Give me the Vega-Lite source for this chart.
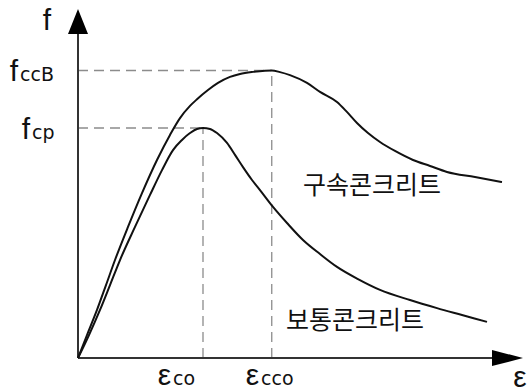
{
  "$schema": "https://vega.github.io/schema/vega-lite/v6.json",
  "width": 531,
  "height": 392,
  "autosize": {"type": "none"},
  "padding": 0,
  "background": "white",
  "config": {"view": {"stroke": null}},
  "datasets": {
    "curves": [
      {"concrete": "구속콘크리트", "eps": 0, "f": 0},
      {"concrete": "구속콘크리트", "eps": 0.144, "f": 0.1},
      {"concrete": "구속콘크리트", "eps": 0.304, "f": 0.209},
      {"concrete": "구속콘크리트", "eps": 0.448, "f": 0.317},
      {"concrete": "구속콘크리트", "eps": 0.592, "f": 0.426},
      {"concrete": "구속콘크리트", "eps": 0.8, "f": 0.57},
      {"concrete": "구속콘크리트", "eps": 1.024, "f": 0.717},
      {"concrete": "구속콘크리트", "eps": 1.264, "f": 0.861},
      {"concrete": "구속콘크리트", "eps": 1.472, "f": 0.97},
      {"concrete": "구속콘크리트", "eps": 1.632, "f": 1.043},
      {"concrete": "구속콘크리트", "eps": 1.792, "f": 1.096},
      {"concrete": "구속콘크리트", "eps": 1.904, "f": 1.125},
      {"concrete": "구속콘크리트", "eps": 2.08, "f": 1.165},
      {"concrete": "구속콘크리트", "eps": 2.24, "f": 1.196},
      {"concrete": "구속콘크리트", "eps": 2.432, "f": 1.222},
      {"concrete": "구속콘크리트", "eps": 2.592, "f": 1.235},
      {"concrete": "구속콘크리트", "eps": 2.8, "f": 1.244},
      {"concrete": "구속콘크리트", "eps": 2.992, "f": 1.249},
      {"concrete": "구속콘크리트", "eps": 3.1, "f": 1.25},
      {"concrete": "구속콘크리트", "eps": 3.232, "f": 1.243},
      {"concrete": "구속콘크리트", "eps": 3.392, "f": 1.23},
      {"concrete": "구속콘크리트", "eps": 3.664, "f": 1.196},
      {"concrete": "구속콘크리트", "eps": 3.872, "f": 1.157},
      {"concrete": "구속콘크리트", "eps": 4.144, "f": 1.113},
      {"concrete": "구속콘크리트", "eps": 4.299, "f": 1.071},
      {"concrete": "구속콘크리트", "eps": 4.464, "f": 1.022},
      {"concrete": "구속콘크리트", "eps": 4.64, "f": 0.978},
      {"concrete": "구속콘크리트", "eps": 4.832, "f": 0.939},
      {"concrete": "구속콘크리트", "eps": 5.072, "f": 0.9},
      {"concrete": "구속콘크리트", "eps": 5.36, "f": 0.861},
      {"concrete": "구속콘크리트", "eps": 5.632, "f": 0.835},
      {"concrete": "구속콘크리트", "eps": 5.904, "f": 0.809},
      {"concrete": "구속콘크리트", "eps": 6.352, "f": 0.787},
      {"concrete": "구속콘크리트", "eps": 6.784, "f": 0.765},
      {"concrete": "보통콘크리트", "eps": 0, "f": 0},
      {"concrete": "보통콘크리트", "eps": 0.176, "f": 0.1},
      {"concrete": "보통콘크리트", "eps": 0.352, "f": 0.209},
      {"concrete": "보통콘크리트", "eps": 0.512, "f": 0.317},
      {"concrete": "보통콘크리트", "eps": 0.672, "f": 0.426},
      {"concrete": "보통콘크리트", "eps": 0.912, "f": 0.57},
      {"concrete": "보통콘크리트", "eps": 1.152, "f": 0.709},
      {"concrete": "보통콘크리트", "eps": 1.344, "f": 0.817},
      {"concrete": "보통콘크리트", "eps": 1.52, "f": 0.904},
      {"concrete": "보통콘크리트", "eps": 1.664, "f": 0.948},
      {"concrete": "보통콘크리트", "eps": 1.792, "f": 0.978},
      {"concrete": "보통콘크리트", "eps": 1.904, "f": 0.996},
      {"concrete": "보통콘크리트", "eps": 2.0, "f": 1.0},
      {"concrete": "보통콘크리트", "eps": 2.112, "f": 0.996},
      {"concrete": "보통콘크리트", "eps": 2.224, "f": 0.978},
      {"concrete": "보통콘크리트", "eps": 2.384, "f": 0.935},
      {"concrete": "보통콘크리트", "eps": 2.512, "f": 0.883},
      {"concrete": "보통콘크리트", "eps": 2.64, "f": 0.83},
      {"concrete": "보통콘크리트", "eps": 2.784, "f": 0.774},
      {"concrete": "보통콘크리트", "eps": 2.912, "f": 0.73},
      {"concrete": "보통콘크리트", "eps": 3.12, "f": 0.657},
      {"concrete": "보통콘크리트", "eps": 3.344, "f": 0.587},
      {"concrete": "보통콘크리트", "eps": 3.6, "f": 0.513},
      {"concrete": "보통콘크리트", "eps": 3.872, "f": 0.452},
      {"concrete": "보통콘크리트", "eps": 4.144, "f": 0.396},
      {"concrete": "보통콘크리트", "eps": 4.48, "f": 0.343},
      {"concrete": "보통콘크리트", "eps": 4.832, "f": 0.296},
      {"concrete": "보통콘크리트", "eps": 5.312, "f": 0.252},
      {"concrete": "보통콘크리트", "eps": 5.744, "f": 0.217},
      {"concrete": "보통콘크리트", "eps": 6.144, "f": 0.187},
      {"concrete": "보통콘크리트", "eps": 6.544, "f": 0.157}
    ],
    "guides": [
      {"eps1": 0, "f1": 1.25, "eps2": 3.1, "f2": 1.25},
      {"eps1": 3.1, "f1": 0, "eps2": 3.1, "f2": 1.25},
      {"eps1": 0, "f1": 1.0, "eps2": 2.0, "f2": 1.0},
      {"eps1": 2.0, "f1": 0, "eps2": 2.0, "f2": 1.0}
    ],
    "axes": [
      {"eps1": 0, "f1": 0, "eps2": 0, "f2": 1.409},
      {"eps1": 0, "f1": 0, "eps2": 6.624, "f2": 0}
    ],
    "labels": [
      {"kind": "axis", "text": "f", "eps": -0.496, "f": 1.426},
      {"kind": "axis", "text": "ε", "eps": 7.072, "f": -0.126},
      {"kind": "symbol", "text": "f", "eps": -0.96, "f": 1.204},
      {"kind": "symbol", "text": "f", "eps": -0.768, "f": 0.952},
      {"kind": "symbol", "text": "ε", "eps": 1.488, "f": -0.117},
      {"kind": "symbol", "text": "ε", "eps": 2.896, "f": -0.117},
      {"kind": "subscript", "text": "ccB", "eps": -0.928, "f": 1.204},
      {"kind": "subscript", "text": "cp", "eps": -0.736, "f": 0.952},
      {"kind": "subscript", "text": "co", "eps": 1.52, "f": -0.117},
      {"kind": "subscript", "text": "cco", "eps": 2.928, "f": -0.117},
      {"kind": "name", "text": "구속콘크리트", "eps": 4.704, "f": 0.748},
      {"kind": "name", "text": "보통콘크리트", "eps": 4.432, "f": 0.161}
    ]
  },
  "layer": [
    {
      "data": {"name": "guides"},
      "mark": {"type": "rule", "stroke": "#8c8c8c", "strokeWidth": 1.3, "strokeDash": [10, 6]},
      "encoding": {
        "x": {"field": "eps1", "type": "quantitative", "scale": {"domain": [-1.248, 7.248]}, "axis": null},
        "y": {"field": "f1", "type": "quantitative", "scale": {"domain": [-0.1478, 1.5565]}, "axis": null},
        "x2": {"field": "eps2"},
        "y2": {"field": "f2"}
      }
    },
    {
      "data": {"name": "axes"},
      "mark": {"type": "rule", "stroke": "#333333", "strokeWidth": 2},
      "encoding": {
        "x": {"field": "eps1", "type": "quantitative", "scale": {"domain": [-1.248, 7.248]}, "axis": null},
        "y": {"field": "f1", "type": "quantitative", "scale": {"domain": [-0.1478, 1.5565]}, "axis": null},
        "x2": {"field": "eps2"},
        "y2": {"field": "f2"}
      }
    },
    {
      "data": {"values": [{"eps": 0, "f": 1.463}]},
      "mark": {"type": "point", "shape": "M0,-1L0.8,1L-0.8,1Z", "size": 625, "filled": true, "fill": "black", "opacity": 1},
      "encoding": {
        "x": {"field": "eps", "type": "quantitative", "scale": {"domain": [-1.248, 7.248]}, "axis": null},
        "y": {"field": "f", "type": "quantitative", "scale": {"domain": [-0.1478, 1.5565]}, "axis": null}
      }
    },
    {
      "data": {"values": [{"eps": 6.872, "f": 0}]},
      "mark": {"type": "point", "shape": "M1,0L-1,0.52L-1,-0.52Z", "size": 961, "filled": true, "fill": "black", "opacity": 1},
      "encoding": {
        "x": {"field": "eps", "type": "quantitative", "scale": {"domain": [-1.248, 7.248]}, "axis": null},
        "y": {"field": "f", "type": "quantitative", "scale": {"domain": [-0.1478, 1.5565]}, "axis": null}
      }
    },
    {
      "data": {"name": "curves"},
      "mark": {"type": "line", "stroke": "#111111", "strokeWidth": 2, "interpolate": "monotone"},
      "encoding": {
        "x": {"field": "eps", "type": "quantitative", "scale": {"domain": [-1.248, 7.248]}, "axis": null},
        "y": {"field": "f", "type": "quantitative", "scale": {"domain": [-0.1478, 1.5565]}, "axis": null},
        "detail": {"field": "concrete", "type": "nominal"}
      }
    },
    {
      "data": {"name": "labels"},
      "transform": [{"filter": "datum.kind === 'axis'"}],
      "mark": {"type": "text", "font": "Liberation Sans", "fontSize": 30, "align": "center", "baseline": "alphabetic", "fill": "#111111"},
      "encoding": {
        "x": {"field": "eps", "type": "quantitative", "scale": {"domain": [-1.248, 7.248]}, "axis": null},
        "y": {"field": "f", "type": "quantitative", "scale": {"domain": [-0.1478, 1.5565]}, "axis": null},
        "text": {"field": "text"}
      }
    },
    {
      "data": {"name": "labels"},
      "transform": [{"filter": "datum.kind === 'symbol'"}],
      "mark": {"type": "text", "font": "Liberation Sans", "fontSize": 30, "align": "right", "baseline": "alphabetic", "fill": "#111111"},
      "encoding": {
        "x": {"field": "eps", "type": "quantitative", "scale": {"domain": [-1.248, 7.248]}, "axis": null},
        "y": {"field": "f", "type": "quantitative", "scale": {"domain": [-0.1478, 1.5565]}, "axis": null},
        "text": {"field": "text"}
      }
    },
    {
      "data": {"name": "labels"},
      "transform": [{"filter": "datum.kind === 'subscript'"}],
      "mark": {"type": "text", "font": "DejaVu Sans", "fontSize": 19, "align": "left", "baseline": "alphabetic", "fill": "#111111"},
      "encoding": {
        "x": {"field": "eps", "type": "quantitative", "scale": {"domain": [-1.248, 7.248]}, "axis": null},
        "y": {"field": "f", "type": "quantitative", "scale": {"domain": [-0.1478, 1.5565]}, "axis": null},
        "text": {"field": "text"}
      }
    },
    {
      "data": {"name": "labels"},
      "transform": [{"filter": "datum.kind === 'name'"}],
      "mark": {"type": "text", "font": "Noto Sans CJK KR", "fontSize": 25, "align": "center", "baseline": "middle", "fill": "#111111"},
      "encoding": {
        "x": {"field": "eps", "type": "quantitative", "scale": {"domain": [-1.248, 7.248]}, "axis": null},
        "y": {"field": "f", "type": "quantitative", "scale": {"domain": [-0.1478, 1.5565]}, "axis": null},
        "text": {"field": "text"}
      }
    }
  ]
}
